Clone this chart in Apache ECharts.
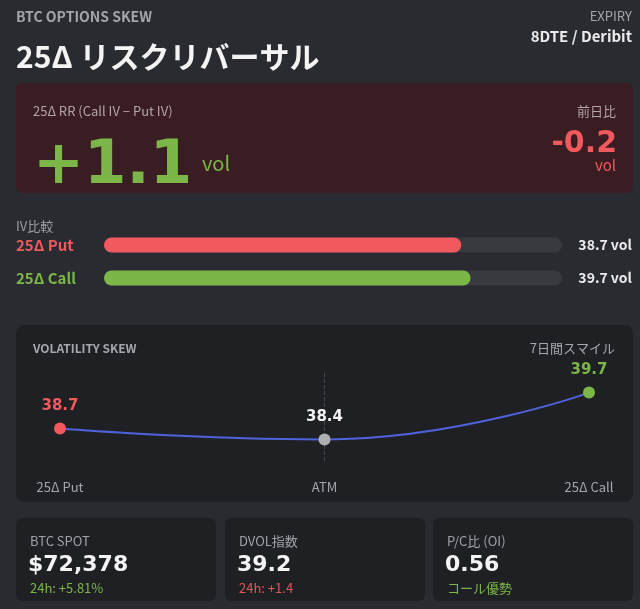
<!DOCTYPE html>
<html>
<head>
<meta charset="utf-8">
<script src="https://cdn.jsdelivr.net/npm/echarts@6/dist/echarts.min.js"></script>
<style>
html,body{margin:0;padding:0;background:#2a2b30;}
#chart{width:640px;height:609px;}
</style>
</head>
<body>
<div id="chart"></div>
<script>
// ---- data ----
const headerTexts = ['BTC OPTIONS SKEW', 'EXPIRY', '8DTE / Deribit', '25Δ リスクリバーサル'];
const rrLabel = '25Δ RR (Call IV − Put IV)';
const rrValue = '+1.1';
const rrChangeLabel = '前日比';
const rrChange = '-0.2';
const ivTitle = 'IV比較';
const ivCategories = ['25Δ Put', '25Δ Call'];
const ivValues = [38.7, 39.7];
const skewTitle = 'VOLATILITY SKEW';
const skewSubtitle = '7日間スマイル';
const skewCategories = ['25Δ Put', 'ATM', '25Δ Call'];
const skewValues = [38.7, 38.4, 39.7];
const cardLabels = ['BTC SPOT', 'DVOL指数', 'P/C比 (OI)'];
const cardValues = ['$72,378', '39.2', '0.56'];
const cardNotes = ['24h: +5.81%', '24h: +1.4', 'コール優勢'];

// ---- styles ----
const RED = '#f05a5e', GREEN = '#7cb648', BLUE = '#4f62da', GRAYDOT = '#aeafb3';
const CJK = '"Noto Sans CJK JP"';
const DJ = '"DejaVu Sans"';
const ivColors = [RED, GREEN];
const skewColors = [RED, GRAYDOT, GREEN];
const skewLabelColors = [RED, '#f2f2f3', GREEN];
const noteColors = [GREEN, '#e0575a', GREEN];

function txt(x, y, text, font, fill, align) {
  return {
    type: 'text', z: 10,
    style: {
      x: x, y: y, text: text, font: font, fill: fill,
      textAlign: align || 'left', align: align || 'left',
      textVerticalAlign: 'middle', verticalAlign: 'middle'
    }
  };
}
function box(x, y, w, h, r, fill) {
  return { type: 'rect', z: -10, shape: { x: x, y: y, width: w, height: h, r: r }, style: { fill: fill } };
}

const graphics = [
  box(16, 83, 617, 110, 6, '#3a1d22'),
  box(16, 325, 617, 177, 8, '#1f2024'),
  txt(16, 17, headerTexts[0], 'bold 14px ' + CJK, '#a3a5ab'),
  txt(632, 16, headerTexts[1], '13px ' + CJK, '#a3a5ab', 'right'),
  txt(632, 36, headerTexts[2], 'bold 15px ' + CJK, '#ebebed', 'right'),
  txt(16, 57, headerTexts[3], 'bold 30px ' + CJK, '#f4f4f5'),
  txt(33, 111.5, rrLabel, '13px ' + CJK, '#b3a4a7'),
  txt(33, 167, rrValue, 'bold 61px ' + DJ, GREEN),
  txt(202, 163, 'vol', '20px ' + CJK, GREEN),
  txt(616, 110.7, rrChangeLabel, '13px ' + CJK, '#b3a4a7', 'right'),
  txt(617, 144, rrChange, 'bold 30px ' + DJ, RED, 'right'),
  txt(616, 165, 'vol', '15px ' + CJK, RED, 'right'),
  txt(16, 226.5, ivTitle, '13px ' + CJK, '#9c9ea5'),
  txt(33, 348, skewTitle, 'bold 12px ' + CJK, '#a5a7ad'),
  txt(615, 348, skewSubtitle, '13px ' + CJK, '#a5a7ad', 'right')
];
const cardX = [16, 225, 433];
cardX.forEach(function (cx, i) {
  graphics.push(box(cx, 518, 200, 83, 6, '#1f2024'));
  graphics.push(txt(cx + 14, 540.7, cardLabels[i], '13px ' + CJK, '#a0a2a8'));
  graphics.push(txt(cx + 12, 565, cardValues[i], 'bold 22px ' + DJ, '#f4f4f5'));
  graphics.push(txt(cx + 14, 588.3, cardNotes[i], '13px ' + CJK, noteColors[i]));
});

const chart = echarts.init(document.getElementById('chart'), null, { renderer: 'canvas' });
chart.setOption({
  backgroundColor: '#2a2b30',
  animation: false,
  graphic: { elements: graphics },
  grid: [
    { left: 104, width: 458, top: 228.5, height: 66 },
    { left: 60, right: 51, top: 371, height: 90 }
  ],
  xAxis: [
    { gridIndex: 0, type: 'value', min: 0, max: 49.6, show: false },
    {
      gridIndex: 1, type: 'category', data: skewCategories, boundaryGap: false,
      axisLine: { show: false }, axisTick: { show: false }, splitLine: { show: false },
      axisLabel: { show: true, margin: 20, fontFamily: 'Noto Sans CJK JP', fontSize: 13, color: '#a4a6ab' }
    }
  ],
  yAxis: [
    {
      gridIndex: 0, type: 'category', data: ivCategories, inverse: true,
      axisLine: { show: false }, axisTick: { show: false }, splitLine: { show: false },
      axisLabel: {
        margin: 88, align: 'left', fontFamily: 'Noto Sans CJK JP', fontWeight: 'bold', fontSize: 15,
        color: function (v) { return ivColors[ivCategories.indexOf(v)]; }
      }
    },
    {
      gridIndex: 0, type: 'category', data: ivCategories, inverse: true, position: 'right',
      axisLine: { show: false }, axisTick: { show: false }, splitLine: { show: false },
      axisLabel: {
        margin: 70, align: 'right', fontFamily: 'Noto Sans CJK JP', fontWeight: 'bold', fontSize: 14,
        color: '#ebebed',
        formatter: function (v) { return ivValues[ivCategories.indexOf(v)].toFixed(1) + ' vol'; }
      }
    },
    { gridIndex: 1, type: 'value', min: 37.8, max: 40.3, show: false }
  ],
  series: [
    {
      type: 'bar', xAxisIndex: 0, yAxisIndex: 0, barWidth: 15,
      showBackground: true,
      backgroundStyle: { color: '#393a40', borderRadius: 8 },
      data: ivValues.map(function (v, i) {
        return { value: v, itemStyle: { color: ivColors[i], borderRadius: 8 } };
      })
    },
    {
      type: 'line', xAxisIndex: 1, yAxisIndex: 2, z: 1, data: [],
      markLine: {
        silent: true, symbol: 'none', label: { show: false },
        lineStyle: { type: 'dashed', color: '#46474c', width: 1 },
        data: [{ xAxis: 'ATM' }]
      }
    },
    {
      type: 'line', xAxisIndex: 1, yAxisIndex: 2, smooth: true, z: 5,
      symbol: 'circle', symbolSize: 12,
      lineStyle: { color: BLUE, width: 2 },
      label: { show: true, position: 'top', distance: 9, fontFamily: 'DejaVu Sans', fontWeight: 'bold', fontSize: 15 },
      data: skewValues.map(function (v, i) {
        return { value: v, itemStyle: { color: skewColors[i] }, label: { color: skewLabelColors[i] } };
      })
    }
  ]
});
</script>
</body>
</html>
